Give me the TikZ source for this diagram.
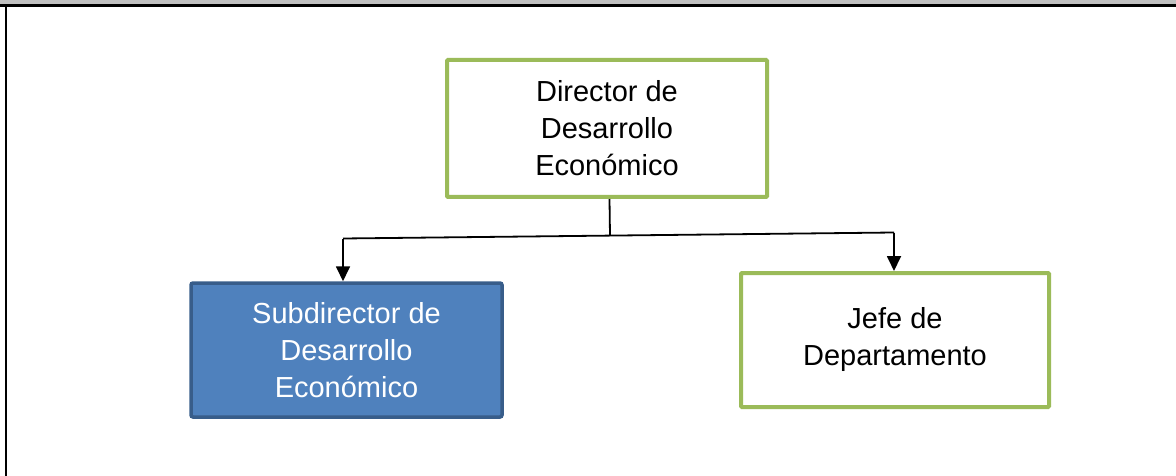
\documentclass[tikz,border=0pt]{standalone}
\usepackage{fontspec}
\setmainfont{Liberation Sans}
\usetikzlibrary{arrows.meta}
\definecolor{greenb}{HTML}{9BBB59}
\definecolor{bluef}{HTML}{4F81BD}
\definecolor{blueb}{HTML}{385D8A}
\definecolor{greyband}{HTML}{C0C0C0}
\begin{document}
\begin{tikzpicture}[x=1pt,y=-1pt,
  box/.style={draw=greenb,line width=4pt,fill=white,rounded corners=1pt,align=center,
    font=\fontsize{29}{37}\selectfont,inner sep=0pt},
  bluebox/.style={draw=blueb,line width=3.5pt,fill=bluef,text=white,rounded corners=2pt,align=center,
    font=\fontsize{29}{37}\selectfont,inner sep=0pt},
  conn/.style={line width=1.8pt,draw=black},
  arr/.style={conn,-{Triangle[length=15pt,width=14pt]}}]
\useasboundingbox (0,0) rectangle (1176,476);
\fill[greyband] (0,0) rectangle (1176,4.5);
\draw[line width=3pt] (0,5.5) -- (1176,5.5);
\draw[line width=2.5pt] (6,5.5) -- (6,476);
\node[box,minimum width=320pt,minimum height=137pt] (dir) at (607,128.5) {Director de\\Desarrollo\\Económico};
\node[bluebox,minimum width=311pt,minimum height=134pt] (sub) at (346.5,350) {Subdirector de\\Desarrollo\\Económico};
\node[box,minimum width=308pt,minimum height=134pt] (jefe) at (895,340) {Jefe de\\Departamento};
\coordinate (m) at (610,235.5);
\coordinate (l) at (343,238.5);
\coordinate (r) at (894,232.5);
\draw[conn] (609.5,199) -- (m);
\draw[conn] (l) -- (r);
\draw[arr] (l) -- (l |- sub.north);
\draw[arr] (r) -- (r |- jefe.north);
\end{tikzpicture}
\end{document}
